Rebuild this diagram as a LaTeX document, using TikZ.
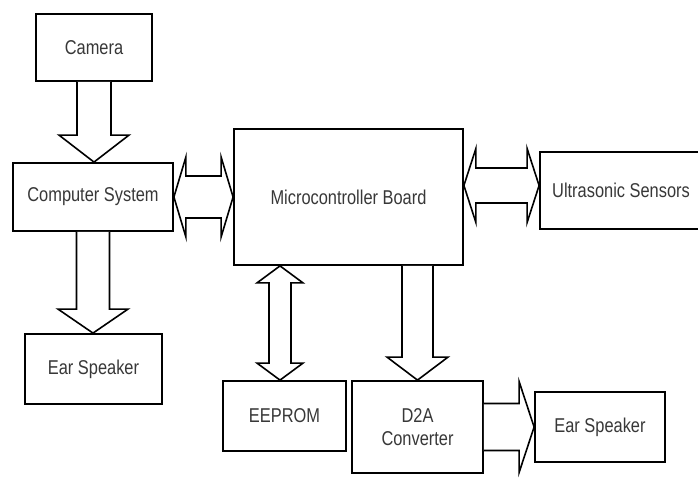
\documentclass[tikz,border=0pt]{standalone}
\usepackage{fontspec}
\setmainfont[FakeStretch=0.82]{Liberation Sans}
\usetikzlibrary{calc}
\tikzset{
  box/.style={draw=black, line width=1.8pt, fill=white, text=black!78, inner sep=0pt,
    font=\fontsize{20}{23}\selectfont, align=center},
  blk/.style={draw=black, line width=1.6pt, fill=white, line join=miter}
}
% single arrow pointing down: from #1 to #2 (x of #1), shaft half width #3, head half width #4, head length #5
\newcommand\sdown[5]{\draw[blk] let \p1=(#1), \p2=(#2) in
  (\x1-#3pt,\y1) -- (\x1-#3pt,\y2+#5pt) -- (\x1-#4pt,\y2+#5pt) -- (\x1,\y2)
  -- (\x1+#4pt,\y2+#5pt) -- (\x1+#3pt,\y2+#5pt) -- (\x1+#3pt,\y1);}
% single arrow pointing right
\newcommand\sright[5]{\draw[blk] let \p1=(#1), \p2=(#2) in
  (\x1,\y1+#3pt) -- (\x2-#5pt,\y1+#3pt) -- (\x2-#5pt,\y1+#4pt) -- (\x2,\y1)
  -- (\x2-#5pt,\y1-#4pt) -- (\x2-#5pt,\y1-#3pt) -- (\x1,\y1-#3pt);}
% double vertical arrow
\newcommand\vdbl[5]{\draw[blk] let \p1=(#1), \p2=(#2) in
  (\x1,\y1) -- (\x1+#4pt,\y1-#5pt) -- (\x1+#3pt,\y1-#5pt) -- (\x1+#3pt,\y2+#5pt)
  -- (\x1+#4pt,\y2+#5pt) -- (\x1,\y2) -- (\x1-#4pt,\y2+#5pt) -- (\x1-#3pt,\y2+#5pt)
  -- (\x1-#3pt,\y1-#5pt) -- (\x1-#4pt,\y1-#5pt) -- cycle;}
% double horizontal arrow
\newcommand\hdbl[5]{\draw[blk] let \p1=(#1), \p2=(#2) in
  (\x1,\y1) -- (\x1+#5pt,\y1+#4pt) -- (\x1+#5pt,\y1+#3pt) -- (\x2-#5pt,\y1+#3pt)
  -- (\x2-#5pt,\y1+#4pt) -- (\x2,\y1) -- (\x2-#5pt,\y1-#4pt) -- (\x2-#5pt,\y1-#3pt)
  -- (\x1+#5pt,\y1-#3pt) -- (\x1+#5pt,\y1-#4pt) -- cycle;}
\begin{document}
\begin{tikzpicture}[x=1pt,y=-1pt]
\useasboundingbox (0,0) rectangle (698,478);
\clip (0,0) rectangle (698,478);
\fill[white] (0,0) rectangle (698,478);

\node[box, minimum width=116pt, minimum height=67pt] (cam) at (94,47.5) {Camera};
\node[box, minimum width=160pt, minimum height=68pt] (comp) at (93,197) {Computer System};
\node[box, minimum width=137pt, minimum height=70pt] (ear1) at (93.5,369) {Ear Speaker};
\node[box, minimum width=229pt, minimum height=136pt] (micro) at (348.5,197) {Microcontroller Board};
\node[box, minimum width=162pt, minimum height=77pt] (ultra) at (621,190.5) {Ultrasonic Sensors};
\node[box, minimum width=123pt, minimum height=70pt] (eep) at (284.5,416) {EEPROM};
\node[box, minimum width=131pt, minimum height=92pt] (d2a) at (417.5,427) {D2A\\Converter};
\node[box, minimum width=130pt, minimum height=70pt] (ear2) at (600,427) {Ear Speaker};

\sdown{cam.south}{comp.north}{17}{35}{27}
\sdown{micro.south -| d2a.north}{d2a.north}{15.5}{30.5}{23}
\sdown{comp.south}{ear1.north}{16.5}{35}{24}
\sright{d2a.east}{ear2.west}{23.5}{45.5}{15}

\coordinate (eepx) at ($(eep.north)+(-4.5,0)$);
\vdbl{eepx |- micro.south}{eep.north}{11}{23}{17}

\hdbl{comp.east}{micro.west}{21}{40}{12}
\coordinate (mu) at ($(micro.east)+(0,-11.5)$);
\hdbl{mu}{ultra.west |- mu}{17.5}{37}{12}
\end{tikzpicture}
\end{document}
